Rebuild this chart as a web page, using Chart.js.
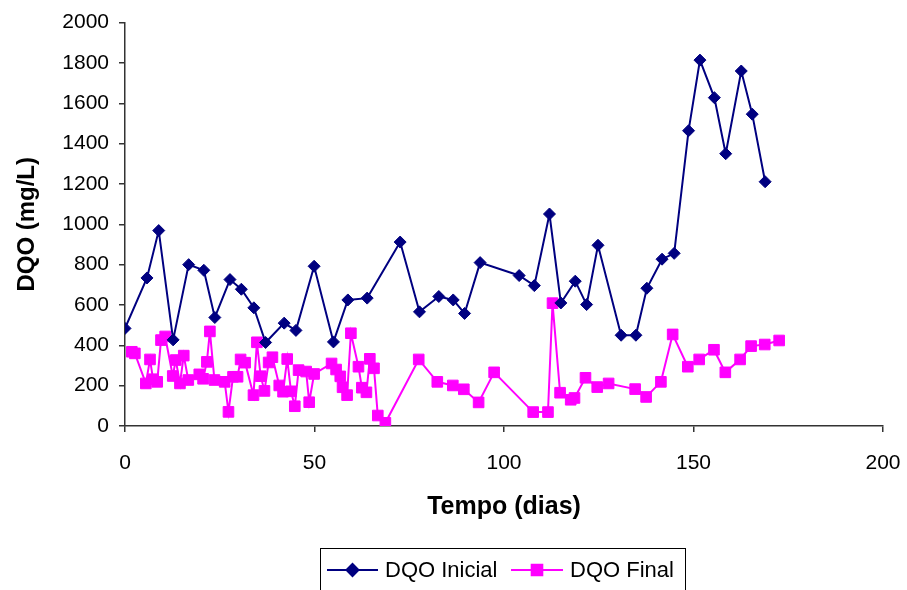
<!DOCTYPE html>
<html>
<head>
<meta charset="utf-8">
<script src="https://cdn.jsdelivr.net/npm/chart.js@4"></script>
<style>
  html, body { margin: 0; padding: 0; background: #fff; }
  #wrap { width: 907px; height: 590px; position: relative; }
</style>
</head>
<body>
<div id="wrap"><canvas id="c" width="907" height="590"></canvas></div>
<script>
// ---- Data ----
const inicialDays = [0, 5.8, 8.9, 12.7, 16.8, 20.8, 23.7, 27.7, 30.7, 34, 37.1, 42, 45.1, 49.9, 55, 58.8, 63.9, 72.6, 77.7, 82.8, 86.6, 89.6, 93.7, 104, 108, 112, 115, 118.8, 121.8, 124.8, 130.9, 134.8, 137.7, 141.7, 144.9, 148.7, 151.7, 155.5, 158.5, 162.6, 165.5, 168.9];
const inicialValues = [484, 734, 969, 427, 800, 772, 538, 726, 678, 586, 414, 510, 474, 792, 417, 625, 634, 912, 566, 642, 625, 558, 810, 746, 696, 1051, 610, 718, 602, 896, 450, 450, 683, 827, 856, 1464, 1814, 1628, 1350, 1760, 1546, 1211];

const finalDays = [1.8, 2.6, 5.5, 6.6, 7.4, 8.5, 9.5, 10.6, 12.6, 13.4, 14.5, 15.5, 16.7, 19.6, 20.6, 21.6, 22.4, 23.6, 26.3, 27.3, 28.5, 29.7, 30.5, 31.7, 33.9, 34.8, 35.8, 36.8, 37.9, 38.9, 40.7, 41.7, 42.8, 43.8, 44.8, 45.8, 47.8, 48.6, 49.9, 54.5, 55.7, 56.8, 57.4, 58.6, 59.6, 61.6, 62.5, 63.7, 64.6, 65.7, 66.7, 68.7, 77.5, 82.4, 86.5, 89.4, 93.3, 97.4, 107.7, 111.6, 112.8, 114.8, 117.6, 118.6, 121.5, 124.6, 127.6, 134.6, 137.5, 141.4, 144.5, 148.5, 151.5, 155.4, 158.4, 162.3, 165.2, 168.8, 172.6];
const finalValues = [368, 360, 211, 330, 232, 219, 426, 444, 248, 327, 211, 349, 228, 256, 234, 318, 469, 228, 219, 70, 244, 244, 330, 314, 153, 415, 247, 174, 315, 341, 201, 170, 332, 172, 98, 277, 270, 118, 258, 310, 280, 246, 192, 153, 460, 294, 190, 167, 333, 286, 52, 16, 330, 219, 201, 182, 117, 266, 69, 69, 609, 165, 130, 139, 239, 193, 211, 183, 144, 219, 454, 294, 330, 378, 266, 330, 396, 404, 424];

const xTicks = [0, 50, 100, 150, 200];
const yTicks = [0, 200, 400, 600, 800, 1000, 1200, 1400, 1600, 1800, 2000];
const seriesNames = ['DQO Inicial', 'DQO Final'];
const xTitle = 'Tempo (dias)';
const yTitle = 'DQO (mg/L)';

const FONT = "'Liberation Sans', Arial, sans-serif";
const BLUE = '#000080';
const PINK = '#FF00FF';

function pts(xs, ys) { return xs.map((x, i) => ({ x: x, y: ys[i] })); }

const legendPlugin = {
  id: 'boxLegend',
  afterDraw(chart) {
    const ctx = chart.ctx;
    ctx.save();
    ctx.strokeStyle = '#000';
    ctx.lineWidth = 1;
    ctx.strokeRect(320.5, 548.5, 365, 60);
    const items = [
      { x0: 327, x1: 378, color: BLUE, style: 'rectRot', r: 6, tx: 385, text: seriesNames[0] },
      { x0: 511, x1: 563, color: PINK, style: 'rect', r: 7.5, tx: 570, text: seriesNames[1] }
    ];
    const y = 570;
    items.forEach(it => {
      ctx.strokeStyle = it.color;
      ctx.lineWidth = 2;
      ctx.beginPath();
      ctx.moveTo(it.x0, y);
      ctx.lineTo(it.x1, y);
      ctx.stroke();
      Chart.helpers.drawPoint(ctx, { pointStyle: it.style, radius: it.r, borderWidth: 1, rotation: 0 }, (it.x0 + it.x1) / 2, y);
      ctx.fillStyle = it.color;
      ctx.fill();
      ctx.fillStyle = '#000';
      ctx.font = '22px ' + FONT;
      ctx.textBaseline = 'middle';
      ctx.textAlign = 'left';
      ctx.fillText(it.text, it.tx, y + 1);
    });
    ctx.restore();
  }
};

new Chart(document.getElementById('c'), {
  type: 'line',
  data: {
    datasets: [
      {
        label: seriesNames[0],
        data: pts(inicialDays, inicialValues),
        borderColor: BLUE,
        backgroundColor: BLUE,
        borderWidth: 2,
        pointStyle: 'rectRot',
        pointRadius: 6,
        pointBorderWidth: 1,
        tension: 0
      },
      {
        label: seriesNames[1],
        data: pts(finalDays, finalValues),
        borderColor: PINK,
        backgroundColor: PINK,
        borderWidth: 2,
        pointStyle: 'rect',
        pointRadius: 7.5,
        pointBorderWidth: 1,
        tension: 0
      }
    ]
  },
  options: {
    responsive: false,
    animation: false,
    events: [],
    layout: { padding: { left: 10, top: 22, right: 24, bottom: 64 } },
    plugins: {
      legend: { display: false },
      tooltip: { enabled: false }
    },
    scales: {
      x: {
        type: 'linear',
        min: 0, max: 200,
        afterBuildTicks(scale) { scale.ticks = xTicks.map(v => ({ value: v })); },
        afterFit(scale) { scale.height = 100; scale.paddingLeft = 0; scale.paddingRight = 0; },
        ticks: { font: { family: FONT, size: 21 }, color: '#000', padding: 19, maxRotation: 0, callback: v => String(v) },
        grid: { drawOnChartArea: false, drawTicks: true, tickLength: 6, color: '#333', lineWidth: 1.5 },
        border: { color: '#333', width: 1.5 },
        title: { display: true, text: xTitle, font: { family: FONT, size: 25, weight: 'bold' }, color: '#000', padding: { top: 0, bottom: 4 } }
      },
      y: {
        min: 0, max: 2000,
        afterBuildTicks(scale) { scale.ticks = yTicks.map(v => ({ value: v })); },
        afterFit(scale) { scale.width = 115; },
        ticks: { font: { family: FONT, size: 21 }, color: '#000', padding: 10, callback: v => String(v) },
        grid: { drawOnChartArea: false, drawTicks: true, tickLength: 6, color: '#333', lineWidth: 1.5 },
        border: { color: '#333', width: 1.5 },
        title: { display: true, text: yTitle, font: { family: FONT, size: 24, weight: 'bold' }, color: '#000', padding: { top: 3, bottom: 0 } }
      }
    }
  },
  plugins: [legendPlugin]
});
</script>
</body>
</html>
